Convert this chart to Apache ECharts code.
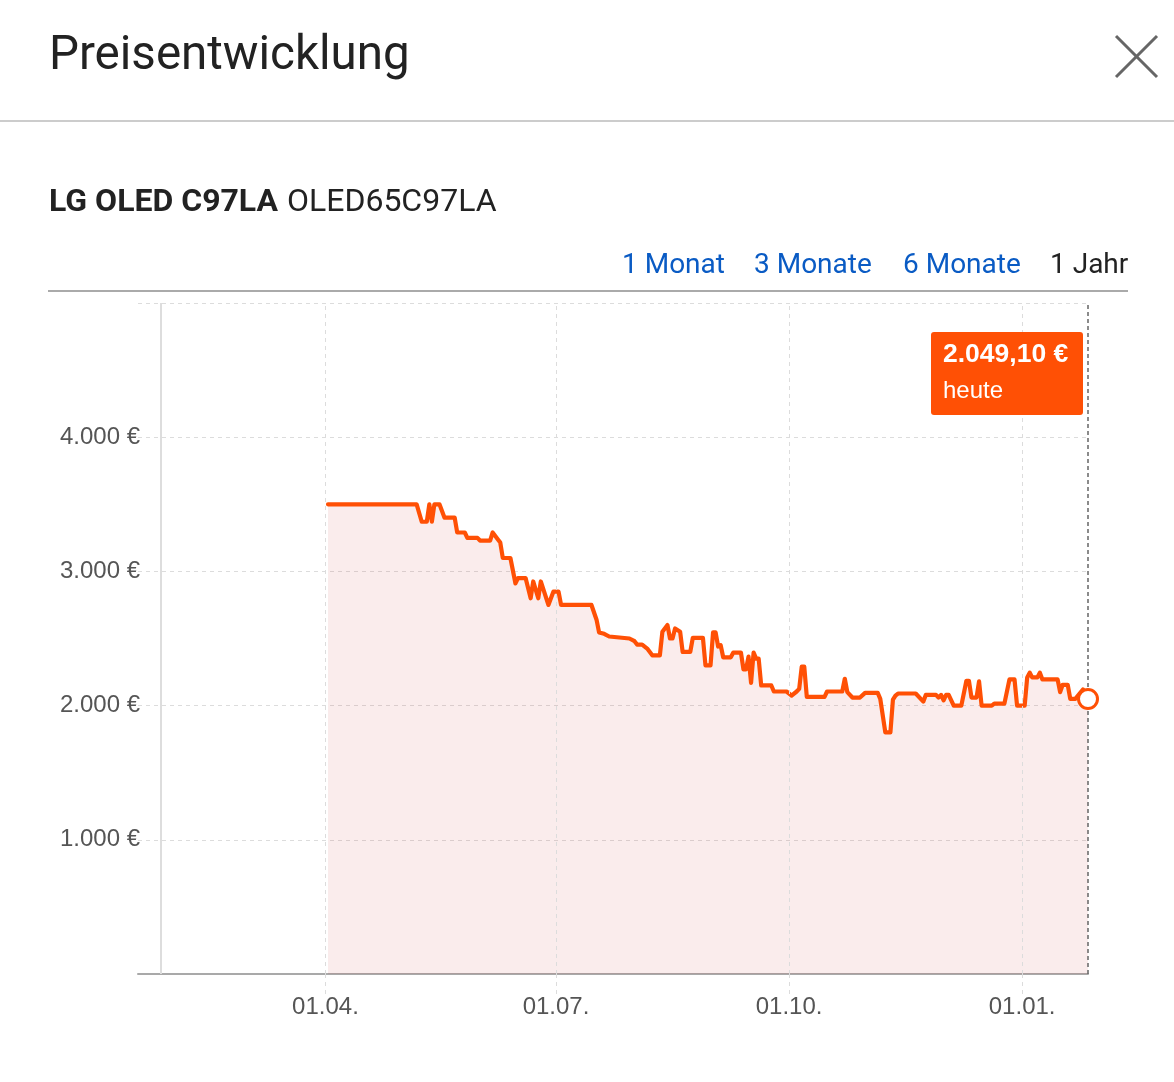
<!DOCTYPE html>
<html>
<head>
<meta charset="utf-8">
<script src="https://cdn.jsdelivr.net/npm/echarts@6/dist/echarts.min.js"></script>
<style>
html,body{margin:0;padding:0;background:#fff;}
#c{width:1174px;height:1082px;}
</style>
</head>
<body>
<div id="c"></div>
<script>
// ---- data ----
const dates = [
  '2019-04-02','2019-05-07','2019-05-09','2019-05-11','2019-05-12','2019-05-13','2019-05-14','2019-05-16','2019-05-18','2019-05-22',
  '2019-05-23','2019-05-26','2019-05-27','2019-05-31',
  '2019-06-01','2019-06-05','2019-06-06','2019-06-08','2019-06-09','2019-06-10','2019-06-13','2019-06-15','2019-06-16','2019-06-19',
  '2019-06-21','2019-06-22','2019-06-24','2019-06-25','2019-06-28','2019-06-30',
  '2019-07-02','2019-07-03','2019-07-15','2019-07-17','2019-07-18','2019-07-20','2019-07-22','2019-07-30',
  '2019-08-01','2019-08-02','2019-08-04','2019-08-06','2019-08-08','2019-08-11','2019-08-12','2019-08-14','2019-08-15','2019-08-16',
  '2019-08-17','2019-08-19','2019-08-20','2019-08-23','2019-08-24','2019-08-28','2019-08-29','2019-08-31',
  '2019-09-01','2019-09-02','2019-09-03','2019-09-04','2019-09-05','2019-09-08','2019-09-09','2019-09-12','2019-09-13','2019-09-14',
  '2019-09-15','2019-09-16','2019-09-17','2019-09-18','2019-09-19','2019-09-20','2019-09-24','2019-09-25','2019-09-30',
  '2019-10-02','2019-10-04','2019-10-05','2019-10-06','2019-10-07','2019-10-08','2019-10-15','2019-10-16','2019-10-22','2019-10-23',
  '2019-10-24','2019-10-26','2019-10-29','2019-10-31',
  '2019-11-05','2019-11-06','2019-11-08','2019-11-10','2019-11-11','2019-11-12','2019-11-13','2019-11-20','2019-11-23','2019-11-24',
  '2019-11-28','2019-11-29','2019-11-30',
  '2019-12-01','2019-12-02','2019-12-03','2019-12-05','2019-12-08','2019-12-10','2019-12-11','2019-12-12','2019-12-14','2019-12-15',
  '2019-12-16','2019-12-20','2019-12-21','2019-12-25','2019-12-27','2019-12-29','2019-12-30',
  '2020-01-02','2020-01-03','2020-01-04','2020-01-05','2020-01-07','2020-01-08','2020-01-09','2020-01-15','2020-01-16','2020-01-17',
  '2020-01-19','2020-01-20','2020-01-22','2020-01-25','2020-01-27'
];
const prices = [
  3500,3500,3370,3370,3500,3370,3500,3500,3400,3400,
  3290,3290,3250,3250,
  3230,3230,3290,3240,3215,3100,3100,2910,2950,2950,
  2800,2925,2800,2925,2750,2850,
  2850,2750,2750,2640,2545,2535,2515,2500,
  2480,2455,2455,2425,2375,2375,2550,2600,2500,2500,
  2575,2550,2400,2400,2505,2505,2300,2300,
  2545,2545,2440,2450,2360,2360,2395,2395,2270,2270,
  2365,2170,2395,2350,2350,2150,2150,2105,2105,
  2075,2105,2125,2290,2290,2065,2065,2105,2105,2200,
  2100,2060,2060,2095,
  2095,2050,1800,1800,2045,2075,2090,2090,2030,2080,
  2080,2060,2080,
  2040,2080,2080,2000,2000,2185,2185,2060,2060,2180,
  2000,2000,2015,2015,2195,2195,2000,
  2000,2210,2245,2210,2210,2245,2195,2195,2100,2155,
  2155,2050,2050,2120,2049.10
];
const tickDates = ['2019-04-01','2019-07-01','2019-10-01','2020-01-01'];
const axisStart = '2019-01-17';
const yearStart = '2019-01-26';
const today = '2020-01-27';
const yTicks = [1000, 2000, 3000, 4000];
const yMax = 5000;
const productBold = 'LG OLED C97LA';
const productModel = 'OLED65C97LA';
const tabs = ['1 Monat', '3 Monate', '6 Monate', '1 Jahr'];
const todayLabel = 'heute';

// ---- helpers ----
function ts(s){ const p = s.split('-').map(Number); return new Date(p[0], p[1]-1, p[2]).getTime(); }
function pad(n){ return (n < 10 ? '0' : '') + n; }
function thousands(v){ return String(Math.floor(v)).replace(/\B(?=(\d{3})+(?!\d))/g, '.'); }
function euro(v, dec){
  if (!dec) return thousands(v) + ' €';
  const cents = Math.round(v * 100) % 100;
  return thousands(v) + ',' + pad(cents) + ' €';
}

const ORANGE = '#ff5005';
const GRID = '#dcdcdc';
const series = dates.map((d, i) => [ts(d), prices[i]]);
const last = series[series.length - 1];
const tickTs = tickDates.map(ts);

const chart = echarts.init(document.getElementById('c'), null, {renderer: 'canvas'});

const option = {
  animation: false,
  backgroundColor: '#fff',
  grid: {left: 138, right: 86, top: 303, bottom: 108, containLabel: false},
  xAxis: {
    type: 'value',
    min: ts(axisStart),
    max: ts(today),
    axisLine: {show: true, lineStyle: {color: '#a9a9a9', width: 2}},
    axisTick: {show: true, customValues: tickTs, length: 20, lineStyle: {color: GRID, type: [4, 4], width: 1}},
    axisLabel: {
      customValues: tickTs,
      margin: 21,
      color: '#555',
      fontFamily: 'Liberation Sans, Arial, sans-serif',
      fontSize: 24,
      formatter: v => { const d = new Date(v); return pad(d.getDate()) + '.' + pad(d.getMonth() + 1) + '.'; }
    },
    splitLine: {show: false}
  },
  yAxis: {
    type: 'value',
    min: 0, max: yMax, interval: 1000,
    axisLine: {show: false},
    axisTick: {show: false},
    axisLabel: {
      margin: -2,
      color: '#555',
      fontFamily: 'Liberation Sans, Arial, sans-serif',
      fontSize: 24,
      formatter: v => yTicks.indexOf(v) >= 0 ? euro(v) : ''
    },
    splitLine: {show: true, lineStyle: {color: GRID, type: [4, 4], width: 1}}
  },
  series: [
    {
      type: 'line',
      data: series,
      showSymbol: false,
      symbol: 'none',
      lineStyle: {color: ORANGE, width: 4.2, join: 'round', cap: 'round'},
      areaStyle: {color: 'rgba(200,40,40,0.125)'},
      markLine: {
        silent: true,
        symbol: ['none', 'none'],
        label: {show: false},
        data: [
          ...tickTs.map(t => ({xAxis: t, lineStyle: {color: GRID, type: [4, 4], width: 1}})),
          {xAxis: ts(yearStart), lineStyle: {color: '#dddddd', type: 'solid', width: 2}},
          {xAxis: ts(today), lineStyle: {color: '#666', type: [4, 3], width: 1.5}}
        ]
      },
      z: 3
    },
    {
      type: 'scatter',
      data: [last],
      symbol: 'circle',
      symbolSize: 19,
      itemStyle: {color: '#fff', borderColor: ORANGE, borderWidth: 3, opacity: 1},
      clip: false,
      z: 5
    }
  ]
};
chart.setOption(option);

// header / decorations / annotation
const lastPx = chart.convertToPixel({gridIndex: 0}, last);
const boxW = 152, boxH = 83, boxRight = lastPx[0] - 5, boxTop = 332;
const tabX = [622, 754, 903, 1050];
chart.setOption({
  graphic: [
    {type: 'text', x: 49, y: 57, style: {text: 'Preisentwicklung', font: '47.5px Roboto', fill: '#222', verticalAlign: 'middle'}},
    {type: 'line', shape: {x1: 1116, y1: 36, x2: 1157, y2: 77}, style: {stroke: '#666', lineWidth: 3}},
    {type: 'line', shape: {x1: 1157, y1: 36, x2: 1116, y2: 77}, style: {stroke: '#666', lineWidth: 3}},
    {type: 'rect', shape: {x: 0, y: 120, width: 1174, height: 2}, style: {fill: '#cccccc'}},
    {type: 'text', x: 49, y: 203, style: {
      text: '{b|' + productBold + '}{n|' + productModel + '}',
      verticalAlign: 'middle',
      rich: {
        b: {font: 'bold 32px Roboto', fill: '#222'},
        n: {font: '32px Roboto', fill: '#222', padding: [0, 0, 0, 9]}
      }
    }},
    ...tabs.map((t, i) => ({type: 'text', x: tabX[i], y: 266, style: {
      text: t, font: '28px Roboto', fill: i === tabs.length - 1 ? '#222' : '#0a5bc4', verticalAlign: 'middle'
    }})),
    {type: 'rect', shape: {x: 48, y: 290, width: 1080, height: 2}, style: {fill: '#aaaaaa'}},
    {type: 'rect', shape: {x: boxRight - boxW, y: boxTop, width: boxW, height: boxH, r: 3}, style: {fill: ORANGE}, z: 10},
    {type: 'text', x: boxRight - boxW + 12, y: boxTop + 23, z: 11, style: {
      text: euro(last[1], true), font: 'bold 26.5px "Liberation Sans", Arial, sans-serif', fill: '#fff', verticalAlign: 'middle'
    }},
    {type: 'text', x: boxRight - boxW + 12, y: boxTop + 59, z: 11, style: {
      text: todayLabel, font: '24px "Liberation Sans", Arial, sans-serif', fill: '#fff', verticalAlign: 'middle'
    }}
  ]
});
</script>
</body>
</html>
